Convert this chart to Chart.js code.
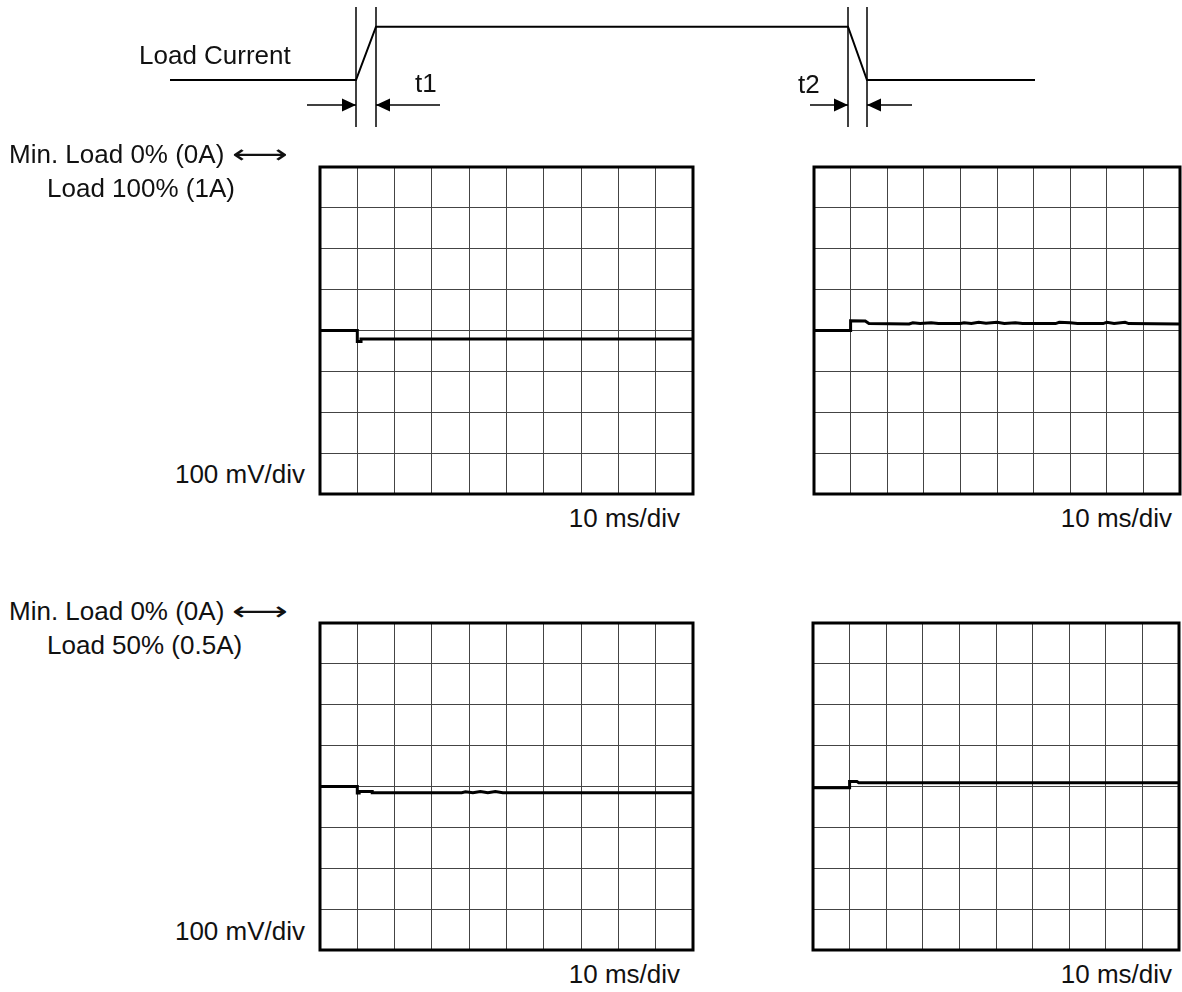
<!DOCTYPE html>
<html>
<head>
<meta charset="utf-8">
<title>Load transient response</title>
<script src="https://cdn.jsdelivr.net/npm/chart.js@4.4.1/dist/chart.umd.min.js"></script>
<style>
  html, body { margin: 0; padding: 0; background: #fff; overflow: hidden; }
  #page { position: relative; width: 1182px; height: 992px; }
  #page canvas { position: absolute; }
  .lbl {
    position: absolute;
    font-family: 'Liberation Sans', Arial, sans-serif;
    font-size: 26px;
    line-height: 26px;
    color: #111;
    white-space: nowrap;
  }
  .arr {
    font-family: 'DejaVu Sans', sans-serif;
    display: inline-block;
    transform: scaleX(1.5);
    transform-origin: left center;
  }
</style>
</head>
<body>
<div id="page"></div>
<script>
// ---- Load current step schematic (arbitrary time units, level 1 = full load) ----
const loadTime  = [-9.3, 0, 1, 24.6, 25.55, 33.95];
const loadLevel = [0, 0, 1, 1, 0, 0];
const edgeTimes = [0, 1, 24.6, 25.55];          // start/end of rise (t1) and fall (t2)
const markerSpan = [-0.88, 1.37];               // extent of the edge marker lines
const arrowLevel = -0.47;
const arrowTails = [-2.45, 4.2, 22.7, 27.8];    // each arrow points at the matching edge

// ---- Scope traces: time in ms (10 ms/div), output deviation in mV (100 mV/div) ----
// 0A -> 1A (rise)
const fullRiseTime = [0, 10, 10, 11, 11, 100];
const fullRiseMv   = [0, 0, -27, -27, -21, -21];
// 1A -> 0A (fall)
const fullFallTime = [0, 10, 10, 14, 15, 26, 27, 29, 32, 34, 40, 41, 43, 45, 47, 50, 52, 55, 57, 66, 67, 70, 72, 79, 80, 82, 85, 86, 100];
const fullFallMv   = [0, 0, 24, 23, 17, 16, 19, 17, 19, 17, 17, 19, 17, 20, 18, 20, 17, 19, 17, 17, 20, 19, 17, 17, 20, 17, 20, 17, 16];
// 0A -> 0.5A (rise)
const halfRiseTime = [0, 10, 10, 10.5, 10.5, 14, 14, 38, 39, 41, 43, 45, 47, 49, 51, 100];
const halfRiseMv   = [0, 0, -16, -16, -12, -12, -15, -15, -13, -15, -12, -15, -12, -15, -15, -15];
// 0.5A -> 0A (fall)
const halfFallTime = [0, 10, 10, 12, 12.5, 100];
const halfFallMv   = [-3, -3, 12, 12, 9, 9];

const timeAxis = { min: 0, max: 100, step: 10 };   // 10 divisions
const voltAxis = { min: -400, max: 400, step: 100 }; // 8 divisions

const page = document.getElementById('page');

function addCanvas(x, y, w, h) {
  const c = document.createElement('canvas');
  c.width = w; c.height = h;
  c.style.left = x + 'px'; c.style.top = y + 'px';
  c.style.width = w + 'px'; c.style.height = h + 'px';
  page.appendChild(c);
  return c;
}

function toPoints(xs, ys) { return xs.map((x, i) => ({ x: x, y: ys[i] })); }

// Heavy frame around the graticule
const framePlugin = {
  id: 'scopeFrame',
  beforeDatasetsDraw(chart) {
    const a = chart.chartArea, ctx = chart.ctx;
    ctx.save();
    ctx.strokeStyle = '#000';
    ctx.lineWidth = 3;
    ctx.strokeRect(a.left, a.top, a.right - a.left, a.bottom - a.top);
    ctx.restore();
  }
};

// Filled arrowheads at the last point of datasets flagged with arrowHead
const arrowPlugin = {
  id: 'arrowHeads',
  afterDatasetsDraw(chart) {
    const ctx = chart.ctx;
    chart.data.datasets.forEach((ds, i) => {
      if (!ds.arrowHead) return;
      const pts = chart.getDatasetMeta(i).data;
      const tip = pts[pts.length - 1], from = pts[pts.length - 2];
      const ang = Math.atan2(tip.y - from.y, tip.x - from.x);
      const len = 14, half = 6.5;
      ctx.save();
      ctx.translate(tip.x, tip.y);
      ctx.rotate(ang);
      ctx.fillStyle = '#000';
      ctx.beginPath();
      ctx.moveTo(0, 0);
      ctx.lineTo(-len, -half);
      ctx.lineTo(-len, half);
      ctx.closePath();
      ctx.fill();
      ctx.restore();
    });
  }
};

const quiet = { legend: { display: false }, tooltip: { enabled: false } };

// ---- Load current schematic ----
(function () {
  const c = addCanvas(0, 0, 1182, 140);
  const datasets = [{
    data: toPoints(loadTime, loadLevel),
    borderColor: '#000', borderWidth: 2, pointRadius: 0, tension: 0
  }];
  edgeTimes.forEach(t => datasets.push({
    data: [{ x: t, y: markerSpan[0] }, { x: t, y: markerSpan[1] }],
    borderColor: '#000', borderWidth: 1.5, pointRadius: 0
  }));
  arrowTails.forEach((t, i) => datasets.push({
    data: [{ x: t, y: arrowLevel }, { x: edgeTimes[i], y: arrowLevel }],
    borderColor: '#000', borderWidth: 1.5, pointRadius: 0, arrowHead: true
  }));
  new Chart(c, {
    type: 'line',
    data: { datasets: datasets },
    options: {
      responsive: false, animation: false, events: [],
      layout: { padding: 0 },
      plugins: quiet,
      scales: {
        x: { type: 'linear', display: false, min: -17.8, max: 41.3 },
        y: { type: 'linear', display: false, min: -1.125, max: 1.5 }
      }
    },
    plugins: [arrowPlugin]
  });
})();

// ---- Scope panels ----
function scopePanel(box, times, mv) {
  const pad = 4;
  const c = addCanvas(box.x - pad, box.y - pad, box.w + 2 * pad, box.h + 2 * pad);
  const grid = { color: '#444', lineWidth: 1, drawTicks: false, tickLength: 0 };
  new Chart(c, {
    type: 'line',
    data: {
      datasets: [{
        data: toPoints(times, mv),
        borderColor: '#000', borderWidth: 3, pointRadius: 0, tension: 0,
        borderJoinStyle: 'miter', fill: false
      }]
    },
    options: {
      responsive: false, animation: false, events: [],
      layout: { padding: pad },
      plugins: quiet,
      scales: {
        x: {
          type: 'linear', min: timeAxis.min, max: timeAxis.max,
          ticks: { display: false, stepSize: timeAxis.step },
          grid: grid, border: { display: false }
        },
        y: {
          type: 'linear', min: voltAxis.min, max: voltAxis.max,
          ticks: { display: false, stepSize: voltAxis.step },
          grid: grid, border: { display: false }
        }
      }
    },
    plugins: [framePlugin]
  });
}

scopePanel({ x: 320, y: 167, w: 373, h: 327 }, fullRiseTime, fullRiseMv);
scopePanel({ x: 814, y: 167, w: 366, h: 327 }, fullFallTime, fullFallMv);
scopePanel({ x: 320, y: 623, w: 373, h: 327 }, halfRiseTime, halfRiseMv);
scopePanel({ x: 813, y: 623, w: 366, h: 327 }, halfFallTime, halfFallMv);

// ---- Text ----
const labels = [
  { html: 'Load Current', x: 139, base: 64 },
  { html: 't1', x: 415, base: 92 },
  { html: 't2', x: 798, base: 93 },
  { html: 'Min. Load 0% (0A) <span class="arr">⟷</span>', x: 9, base: 163 },
  { html: 'Load 100% (1A)', x: 47, base: 197 },
  { html: '100 mV/div', right: 305, base: 483 },
  { html: '10 ms/div', right: 680, base: 527 },
  { html: '10 ms/div', right: 1172, base: 527 },
  { html: 'Min. Load 0% (0A) <span class="arr">⟷</span>', x: 9, base: 620 },
  { html: 'Load 50% (0.5A)', x: 47, base: 654 },
  { html: '100 mV/div', right: 305, base: 940 },
  { html: '10 ms/div', right: 680, base: 983 },
  { html: '10 ms/div', right: 1172, base: 983 }
];
labels.forEach(l => {
  const d = document.createElement('div');
  d.className = 'lbl';
  d.innerHTML = l.html;
  d.style.top = (l.base - 22) + 'px';
  if (l.right !== undefined) d.style.right = (1182 - l.right) + 'px';
  else d.style.left = l.x + 'px';
  page.appendChild(d);
});
</script>
</body>
</html>
